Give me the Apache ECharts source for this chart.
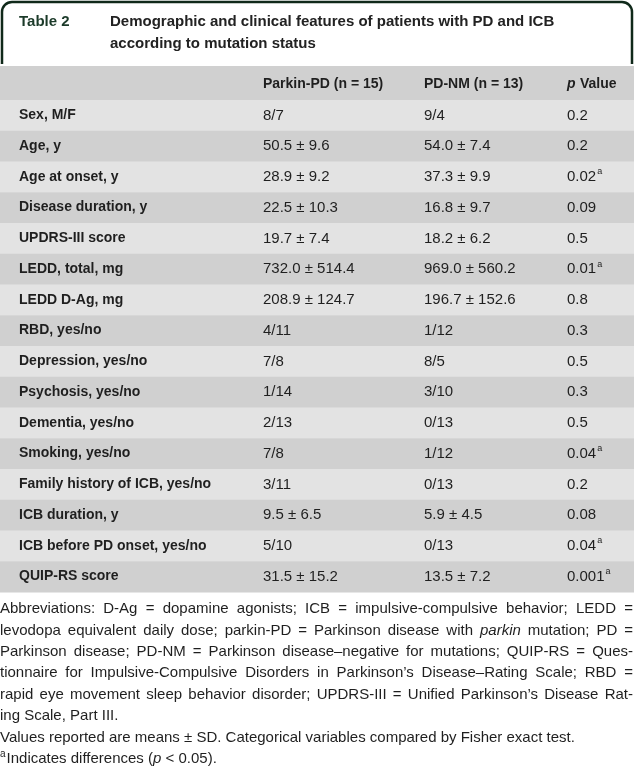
<!DOCTYPE html>
<html>
<head>
<meta charset="utf-8">
<script src="https://cdn.jsdelivr.net/npm/echarts@6/dist/echarts.min.js"></script>
<style>
  html, body { margin: 0; padding: 0; background: #ffffff; }
  #chart { width: 634px; height: 767px; }
</style>
</head>
<body>
<div id="chart"></div>
<script>
// ---------- DATA ----------
const tableNumber = 'Table 2';
const titleLines = [
  'Demographic and clinical features of patients with PD and ICB',
  'according to mutation status'
];
const columnHeaders = ['Parkin-PD (n = 15)', 'PD-NM (n = 13)', 'Value'];
const rowLabels = [
  'Sex, M/F', 'Age, y', 'Age at onset, y', 'Disease duration, y', 'UPDRS-III score',
  'LEDD, total, mg', 'LEDD D-Ag, mg', 'RBD, yes/no', 'Depression, yes/no',
  'Psychosis, yes/no', 'Dementia, yes/no', 'Smoking, yes/no',
  'Family history of ICB, yes/no', 'ICB duration, y', 'ICB before PD onset, yes/no',
  'QUIP-RS score'
];
const parkinPD = [
  '8/7', '50.5 ± 9.6', '28.9 ± 9.2', '22.5 ± 10.3', '19.7 ± 7.4',
  '732.0 ± 514.4', '208.9 ± 124.7', '4/11', '7/8', '1/14', '2/13', '7/8',
  '3/11', '9.5 ± 6.5', '5/10', '31.5 ± 15.2'
];
const pdNM = [
  '9/4', '54.0 ± 7.4', '37.3 ± 9.9', '16.8 ± 9.7', '18.2 ± 6.2',
  '969.0 ± 560.2', '196.7 ± 152.6', '1/12', '8/5', '3/10', '0/13', '1/12',
  '0/13', '5.9 ± 4.5', '0/13', '13.5 ± 7.2'
];
const pValues = [
  '0.2', '0.2', '0.02', '0.09', '0.5', '0.01', '0.8', '0.3', '0.5', '0.3',
  '0.5', '0.04', '0.2', '0.08', '0.04', '0.001'
];
const pSignificant = [
  false, false, true, false, false, true, false, false, false, false,
  false, true, false, false, true, true
];
// footnote lines as token lists: [text, style]
const footnoteLines = [
  [['Abbreviations: D-Ag = dopamine agonists; ICB = impulsive-compulsive behavior; LEDD =', false]],
  [['levodopa equivalent daily dose; parkin-PD = Parkinson disease with ', false], ['parkin', true], [' mutation; PD =', false]],
  [['Parkinson disease; PD-NM = Parkinson disease–negative for mutations; QUIP-RS = Ques-', false]],
  [['tionnaire for Impulsive-Compulsive Disorders in Parkinson\u2019s Disease–Rating Scale; RBD =', false]],
  [['rapid eye movement sleep behavior disorder; UPDRS-III = Unified Parkinson\u2019s Disease Rat-', false]],
  [['ing Scale, Part III.', false]],
  [['Values reported are means ± SD. Categorical variables compared by Fisher exact test.', false]],
  [['a', 'sup'], ['Indicates differences (', false], ['p', true], [' < 0.05).', false]]
];
const justifyLine = [true, true, true, true, true, false, false, false];

// ---------- LAYOUT ----------
const W = 634;
const FONT = '"Liberation Sans", Arial, sans-serif';
const colX = [19, 263, 424, 567];
const tableTop = 100, tableBottom = 592;
const lightRow = '#e3e3e3', darkRow = '#d0d0d0';
const textColor = '#1f1f1f';

const measureCtx = document.createElement('canvas').getContext('2d');
function measure(text, font) { measureCtx.font = font; return measureCtx.measureText(text).width; }

const chart = echarts.init(document.getElementById('chart'), null, { renderer: 'canvas' });

const footFontSize = 15;
const footFont = (it) => (it ? 'italic ' : '') + footFontSize + 'px ' + FONT;
const footTop = 609, footLH = 21.4;
const footnoteEls = [];
footnoteLines.forEach((tokens, li) => {
  const y = footTop + li * footLH;
  const words = [];
  tokens.forEach(([t, st]) => {
    if (st === 'sup') { words.push({ parts: [{ t, st }], joined: true }); return; }
    t.split(/( )/).forEach(p => {
      if (p === '') return;
      if (p === ' ') { words.push({ space: true }); return; }
      const last = words[words.length - 1];
      if (last && !last.space && !last.joined) last.parts.push({ t: p, st });
      else words.push({ parts: [{ t: p, st }] });
    });
  });
  const realWords = words.filter(w => !w.space);
  const partW = (p) => p.st === 'sup' ? measure(p.t, '10px ' + FONT) + 1 : measure(p.t, footFont(p.st === true));
  const wordWidths = realWords.map(w => w.parts.reduce((s, p) => s + partW(p), 0));
  const total = wordWidths.reduce((a, b) => a + b, 0);
  let gap = measure(' ', footFont(false));
  const gapsCount = realWords.filter(w => !w.joined).length - 1;
  if (justifyLine[li] && gapsCount > 0) gap = (W - 1 - total) / gapsCount;
  let x = 0;
  realWords.forEach((w, wi) => {
    let px = x;
    w.parts.forEach(p => {
      if (p.st === 'sup') {
        footnoteEls.push({ type: 'text', x: px, y: y - 5, style: { text: p.t, font: '10px ' + FONT, fill: textColor, verticalAlign: 'middle' } });
      } else {
        footnoteEls.push({ type: 'text', x: px, y: y, style: { text: p.t, font: footFont(p.st === true), fill: textColor, verticalAlign: 'middle' } });
      }
      px += partW(p);
    });
    x += wordWidths[wi] + (w.joined ? 0 : gap);
  });
});

const rowIdx = rowLabels.map((_, i) => i);

const option = {
  animation: false,
  backgroundColor: '#ffffff',
  grid: { left: 0, right: 0, top: tableTop, bottom: 767 - tableBottom },
  xAxis: { type: 'value', min: 0, max: W, show: false },
  yAxis: { type: 'category', data: rowLabels, inverse: true, show: false },
  graphic: [
    { type: 'rect', z: 1, shape: { x: 2, y: 2, width: 630, height: 75, r: [10, 10, 0, 0] },
      style: { stroke: '#10291a', lineWidth: 2.5, fill: '#ffffff' } },
    { type: 'rect', z: 2, shape: { x: 0, y: 64, width: W, height: 2 }, style: { fill: '#ffffff' } },
    { type: 'text', z: 3, x: 19, y: 22, style: { text: tableNumber, font: 'bold 15px ' + FONT, fill: '#1b3a29', verticalAlign: 'middle' } },
    { type: 'text', z: 3, x: 110, y: 22, style: { text: titleLines[0], font: 'bold 15px ' + FONT, fill: '#222222', verticalAlign: 'middle' } },
    { type: 'text', z: 3, x: 110, y: 44, style: { text: titleLines[1], font: 'bold 15px ' + FONT, fill: '#222222', verticalAlign: 'middle' } },
    { type: 'rect', z: 3, shape: { x: 0, y: 66, width: W, height: 34 }, style: { fill: darkRow } },
    { type: 'text', z: 4, x: colX[1], y: 84, style: { text: columnHeaders[0], font: 'bold 14px ' + FONT, fill: textColor, verticalAlign: 'middle' } },
    { type: 'text', z: 4, x: colX[2], y: 84, style: { text: columnHeaders[1], font: 'bold 14px ' + FONT, fill: textColor, verticalAlign: 'middle' } },
    { type: 'text', z: 4, x: colX[3], y: 84, style: { text: 'p', font: 'italic bold 14px ' + FONT, fill: textColor, verticalAlign: 'middle' } },
    { type: 'text', z: 4, x: colX[3] + 13, y: 84, style: { text: columnHeaders[2], font: 'bold 14px ' + FONT, fill: textColor, verticalAlign: 'middle' } }
  ].concat(footnoteEls),
  series: [{
    type: 'custom',
    data: rowIdx.map(i => [0, i]),
    encode: { x: 0, y: 1 },
    renderItem: function (params, api) {
      const i = params.dataIndex;
      const c = api.coord([0, i]);
      const band = api.size([0, 1])[1];
      const cs = params.coordSys;
      const top = c[1] - band / 2;
      const cy = c[1];
      const children = [
        { type: 'rect', shape: { x: cs.x, y: top, width: cs.width, height: band + 0.5 },
          style: { fill: i % 2 === 0 ? lightRow : darkRow } },
        { type: 'text', x: colX[0], y: cy, style: { text: rowLabels[i], font: 'bold 14px ' + FONT, fill: textColor, verticalAlign: 'middle' } },
        { type: 'text', x: colX[1], y: cy, style: { text: parkinPD[i], font: '15px ' + FONT, fill: textColor, verticalAlign: 'middle' } },
        { type: 'text', x: colX[2], y: cy, style: { text: pdNM[i], font: '15px ' + FONT, fill: textColor, verticalAlign: 'middle' } },
        { type: 'text', x: colX[3], y: cy, style: { text: pValues[i], font: '15px ' + FONT, fill: textColor, verticalAlign: 'middle' } }
      ];
      if (pSignificant[i]) {
        children.push({ type: 'text', x: colX[3] + measure(pValues[i], '15px ' + FONT) + 1, y: cy - 5,
          style: { text: 'a', font: '9px ' + FONT, fill: textColor, verticalAlign: 'middle' } });
      }
      return { type: 'group', children: children };
    }
  }]
};
chart.setOption(option);
</script>
</body>
</html>
